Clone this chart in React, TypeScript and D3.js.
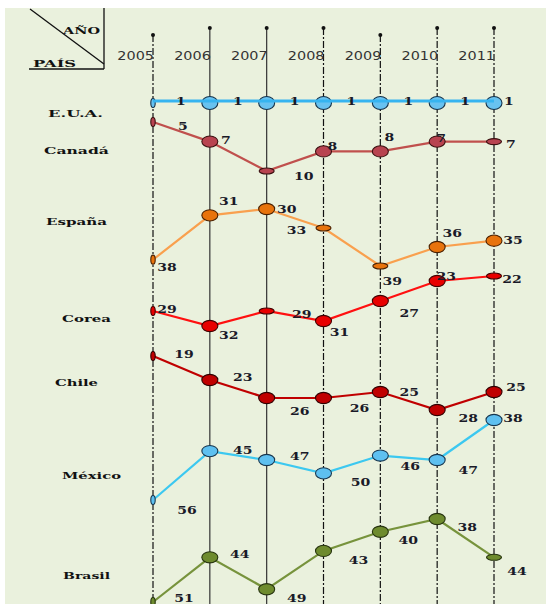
import React from "react";
import * as d3 from "d3";

// ---------- data ----------
const years = [2005, 2006, 2007, 2008, 2009, 2010, 2011];
const countries = ["E.U.A.", "Canadá", "España", "Corea", "Chile", "México", "Brasil"];
const rankEUA = [1, 1, 1, 1, 1, 1, 1];
const rankCanada = [5, 7, 10, 8, 8, 7, 7];
const rankEspana = [38, 31, 30, 33, 39, 36, 35];
const rankCorea = [29, 32, 29, 31, 27, 23, 22];
const rankChile = [19, 23, 26, 26, 25, 28, 25];
const rankMexico = [56, 45, 47, 50, 46, 47, 38];
const rankBrasil = [51, 44, 49, 43, 40, 38, 44];
const headerYear = "AÑO";
const headerCountry = "PAÍS";

// ---------- layout / style ----------
const W = 546;
const H = 604;
const series = [rankEUA, rankCanada, rankEspana, rankCorea, rankChile, rankMexico, rankBrasil];
// vertical band (pixel range) per country for its own rank scale
const bands: [number, number][] = [
  [101, 101],
  [122, 171],
  [209, 266],
  [276, 326],
  [356, 410],
  [420, 500],
  [519, 602],
];
const lineColors = ["#36B4F0", "#C0504D", "#F9A04E", "#FF1010", "#C00000", "#3CC8F0", "#77933C"];
const markerFill = ["#68C2F0", "#B84350", "#E8730C", "#E80000", "#C00000", "#5EC0F0", "#6E8B2E"];
const markerStroke = ["#15324a", "#3a1010", "#4a2000", "#420000", "#300000", "#17364f", "#26330e"];
// marker kinds: t = tiny, n = normal, f = flat
const markerKinds = [
  "tnnnnnn",
  "tnfnnnf",
  "tnnffnn",
  "tnfnnnf",
  "tnnnnnn",
  "tnnnnnn",
  "tnnnnnf",
];
// label offsets (dx, dy) relative to marker
const labelOffsets: [number, number][][] = [
  [[28, 0], [28, 0], [28, 0], [28, 0], [28, 0], [28, 0], [15, 0]],
  [[30, 4], [16, -2], [37, 5], [9, -5], [9, -14], [4, -4], [17, 2]],
  [[14, 7], [19, -14], [20, 0], [-27, 2], [12, 15], [15, -14], [19, -1]],
  [[14, -2], [19, 9], [35, 3], [16, 11], [29, 12], [9, -5], [18, 3]],
  [[31, -2], [33, -3], [33, 13], [36, 10], [29, 0], [31, 8], [22, -5]],
  [[34, 10], [33, -1], [33, -4], [37, 9], [30, 10], [31, 10], [19, -2]],
  [[31, -4], [30, -3], [30, 9], [35, 9], [28, 8], [30, 8], [23, 14]],
];
const countryLabelPos: [number, number, number][] = [
  [48, 113, 55],
  [44, 150, 65],
  [46, 221, 61],
  [62, 318, 49],
  [55, 382, 43],
  [62, 475, 59],
  [63, 575, 47],
];
const lineTops = [35, 28, 28, 28, 35, 28, 28];
const solidYears = [2006, 2007];

const x = d3.scaleLinear().domain([2005, 2011]).range([153, 494]);

export default function App() {
  const yScales = series.map((vals, i) =>
    d3.scaleLinear().domain(d3.extent(vals) as [number, number]).range(bands[i])
  );

  const markerSize = (k: string) =>
    k === "t" ? [2.2, 4.5] : k === "f" ? [7.5, 3] : [8, 5.6];

  return (
    <svg
      width={W}
      height={H}
      style={{ position: "absolute", left: 0, top: 0, display: "block" }}
    >
      <rect x={0} y={0} width={W} height={H} fill="#ffffff" />
      <rect x={5} y={8} width={W - 5} height={H - 8} fill="#EAF1DD" />

      {/* header box */}
      <line x1={30} y1={9} x2={104} y2={64} stroke="#111" strokeWidth={1.3} />
      <line x1={104} y1={8} x2={104} y2={69} stroke="#111" strokeWidth={1.3} />
      <line x1={29} y1={69} x2={104} y2={69} stroke="#111" strokeWidth={1.3} />
      <text
        x={63}
        y={33.5}
        textLength={37}
        lengthAdjust="spacingAndGlyphs"
        fontFamily="DejaVu Serif"
        fontWeight="bold"
        fontSize={10}
        fill="#111"
      >
        {headerYear}
      </text>
      <text
        x={33}
        y={67}
        textLength={43}
        lengthAdjust="spacingAndGlyphs"
        fontFamily="DejaVu Serif"
        fontWeight="bold"
        fontSize={10}
        fill="#111"
      >
        {headerCountry}
      </text>

      {/* vertical year lines */}
      {years.map((yr, i) => (
        <g key={"v" + yr}>
          <line
            x1={x(yr)}
            x2={x(yr)}
            y1={lineTops[i]}
            y2={H}
            stroke={solidYears.includes(yr) ? "#333" : "#111"}
            strokeWidth={1.2}
            strokeDasharray={solidYears.includes(yr) ? undefined : "7,2,2,2"}
          />
          <circle cx={x(yr)} cy={lineTops[i]} r={2} fill="#111" />
          <text
            transform={`translate(${x(yr) + 1},${60}) scale(1.2,1)`}
            textAnchor="end"
            fontFamily="DejaVu Sans"
            fontSize={12}
            fill="#333"
          >
            {yr}
          </text>
        </g>
      ))}

      {/* country labels */}
      {countries.map((c, i) => (
        <text
          key={"c" + c}
          x={countryLabelPos[i][0]}
          y={countryLabelPos[i][1] + 3.5}
          textLength={countryLabelPos[i][2]}
          lengthAdjust="spacingAndGlyphs"
          fontFamily="DejaVu Serif"
          fontWeight="bold"
          fontSize={10}
          fill="#111"
        >
          {c}
        </text>
      ))}

      {/* series */}
      {series.map((vals, si) => {
        const ys = yScales[si];
        const line = d3
          .line<number>()
          .x((_, j) => x(years[j]))
          .y((v) => ys(v));
        const path = (
          <path
            d={line(vals) || ""}
            fill="none"
            stroke={lineColors[si]}
            strokeWidth={si === 0 ? 3.2 : 2.2}
          />
        );
        const markers = vals.map((v, j) => {
          const [rx, ry] = markerSize(markerKinds[si][j]);
          return (
            <ellipse
              key={"m" + j}
              cx={x(years[j])}
              cy={ys(v) + (si === 0 ? 2 : 0)}
              rx={rx}
              ry={si === 0 && markerKinds[si][j] === "n" ? 6.5 : ry}
              fill={markerFill[si]}
              stroke={markerStroke[si]}
              strokeWidth={1.1}
            />
          );
        });
        const labels = vals.map((v, j) => (
          <text
            key={"l" + j}
            transform={`translate(${x(years[j]) + labelOffsets[si][j][0]},${
              ys(v) + labelOffsets[si][j][1] + 4
            }) scale(1.3,1)`}
            textAnchor="middle"
            fontFamily="DejaVu Serif"
            fontWeight="bold"
            fontSize={10.8}
            fill="#1a1a28"
          >
            {v}
          </text>
        ));
        return (
          <g key={"s" + si}>
            {si === 0 ? (
              <>
                {markers}
                {path}
              </>
            ) : (
              <>
                {path}
                {markers}
              </>
            )}
            {labels}
          </g>
        );
      })}
    </svg>
  );
}
